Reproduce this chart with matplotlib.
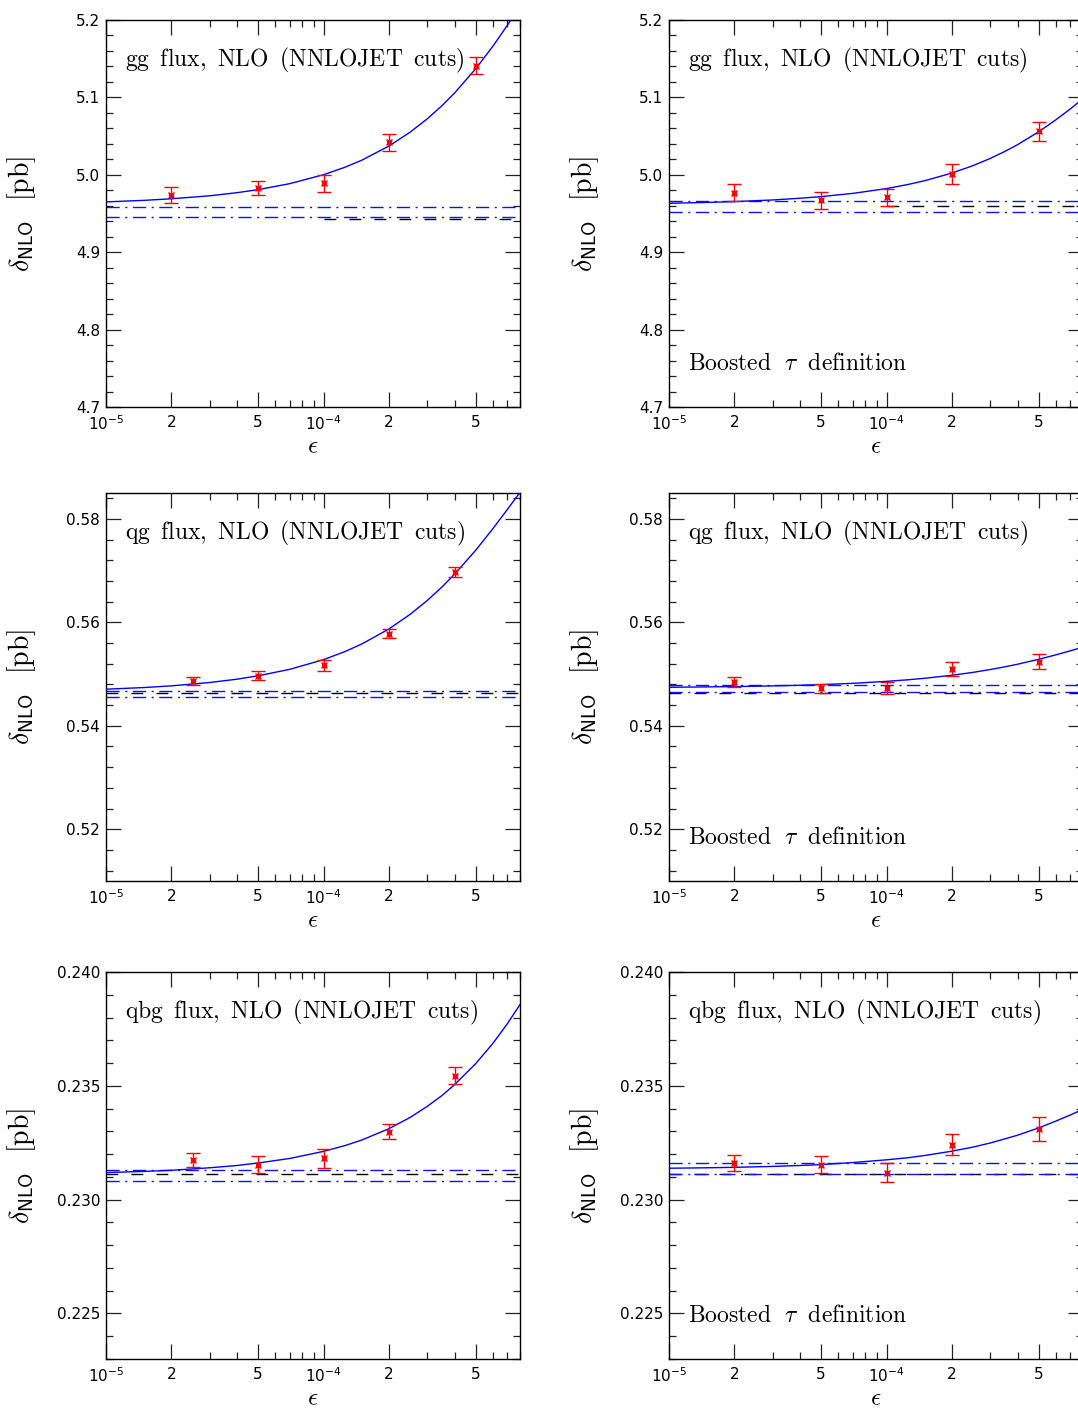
import matplotlib
matplotlib.use("Agg")
import matplotlib.pyplot as plt
from matplotlib.ticker import FixedLocator, MultipleLocator, FormatStrFormatter, NullFormatter

plt.rcParams['mathtext.fontset'] = 'cm'
plt.rcParams['font.family'] = ['cmr10', 'DejaVu Sans']
plt.rcParams['axes.unicode_minus'] = False

# ---------------- data ----------------
x_major = [1e-5, 2e-5, 5e-5, 1e-4, 2e-4, 5e-4]
x_major_labels = [r'$10^{-5}$', '2', '5', r'$10^{-4}$', '2', '5']
x_minor = [3e-5, 4e-5, 6e-5, 7e-5, 8e-5, 9e-5, 3e-4, 4e-4, 6e-4, 7e-4, 8e-4]
x_range = [1e-5, 8e-4]

eps_fit = [1e-5, 1.5e-5, 2e-5, 3e-5, 4e-5, 5e-5, 7e-5, 1e-4, 1.25e-4, 1.5e-4,
           2e-4, 2.5e-4, 3e-4, 3.5e-4, 4e-4, 5e-4, 6e-4, 7e-4, 8e-4]

# gg, standard definition
gg_std_eps = [2e-5, 5e-5, 1e-4, 2e-4, 5e-4]
gg_std_val = [4.974, 4.983, 4.989, 5.042, 5.141]
gg_std_err = [0.010, 0.0095, 0.011, 0.011, 0.011]
gg_std_fit = [4.9650, 4.9670, 4.9690, 4.9729, 4.9769, 4.9808, 4.9886, 5.0001, 5.0096,
              5.0189, 5.0372, 5.0551, 5.0724, 5.0892, 5.1056, 5.1368, 5.1660, 5.1932,
              5.2185]
gg_std_band = [4.958, 4.946]
gg_std_ref = 4.9426

# gg, boosted tau definition
gg_bst_eps = [2e-5, 5e-5, 1e-4, 2e-4, 5e-4]
gg_bst_val = [4.977, 4.967, 4.971, 5.001, 5.056]
gg_bst_err = [0.011, 0.011, 0.011, 0.0125, 0.012]
gg_bst_fit = [4.9632, 4.9643, 4.9654, 4.9675, 4.9697, 4.9718, 4.9760, 4.9822, 4.9874,
              4.9924, 5.0023, 5.0119, 5.0212, 5.0302, 5.0389, 5.0555, 5.0710, 5.0852,
              5.0983]
gg_bst_band = [4.9667, 4.9525]
gg_bst_ref = 4.960

# qg, standard definition
qg_std_eps = [2.5e-5, 5e-5, 1e-4, 2e-4, 4e-4]
qg_std_val = [0.54868, 0.54971, 0.55171, 0.55783, 0.56975]
qg_std_err = [0.00077, 0.0009, 0.0011, 0.0009, 0.0010]
qg_std_fit = [0.54707, 0.54740, 0.54772, 0.54837, 0.54901, 0.54966, 0.55092, 0.55279,
              0.55432, 0.55582, 0.55873, 0.56154, 0.56423, 0.56682, 0.56929, 0.57391,
              0.57809, 0.58183, 0.58513]
qg_std_band = [0.5468, 0.5455]
qg_std_ref = 0.5464

# qg, boosted tau definition
qg_bst_eps = [2e-5, 5e-5, 1e-4, 2e-4, 5e-4]
qg_bst_val = [0.54842, 0.54726, 0.54726, 0.55106, 0.55241]
qg_bst_err = [0.00094, 0.0009, 0.0012, 0.00135, 0.0014]
qg_bst_fit = [0.54745, 0.54752, 0.54758, 0.54771, 0.54784, 0.54796, 0.54821, 0.54859,
              0.54889, 0.54919, 0.54977, 0.55033, 0.55088, 0.55140, 0.55190, 0.55285,
              0.55371, 0.55450, 0.55520]
qg_bst_band = [0.5479, 0.5466]
qg_bst_ref = 0.5463

# qbg, standard definition
qbg_std_eps = [2.5e-5, 5e-5, 1e-4, 2e-4, 4e-4]
qbg_std_val = [0.23176, 0.23154, 0.23182, 0.23299, 0.23545]
qbg_std_err = [0.00031, 0.00036, 0.00041, 0.00034, 0.00039]
qbg_std_fit = [0.23119, 0.23124, 0.23129, 0.23140, 0.23150, 0.23161, 0.23181, 0.23212,
               0.23237, 0.23262, 0.23312, 0.23361, 0.23410, 0.23457, 0.23505, 0.23597,
               0.23686, 0.23773, 0.23857]
qbg_std_band = [0.23130, 0.23080]
qbg_std_ref = 0.23112

# qbg, boosted tau definition
qbg_bst_eps = [2e-5, 5e-5, 1e-4, 2e-4, 5e-4]
qbg_bst_val = [0.23161, 0.23153, 0.23119, 0.23242, 0.23309]
qbg_bst_err = [0.00034, 0.00037, 0.00043, 0.00048, 0.00053]
qbg_bst_fit = [0.23138, 0.23140, 0.23142, 0.23146, 0.23150, 0.23154, 0.23163, 0.23175,
               0.23184, 0.23194, 0.23213, 0.23231, 0.23249, 0.23267, 0.23283, 0.23315,
               0.23345, 0.23372, 0.23397]
qbg_bst_band = [0.23160, 0.23113]
qbg_bst_ref = 0.23112

titles = [r'gg $\,$flux, $\,$NLO $\,$(NNLOJET $\,$cuts)',
          r'qg $\,$flux, $\,$NLO $\,$(NNLOJET $\,$cuts)',
          r'qbg $\,$flux, $\,$NLO $\,$(NNLOJET $\,$cuts)']
boosted_label = r'Boosted $\;\tau\;$ definition'
ylabel = r'$\delta_{\mathsf{NLO}}$  [pb]'
xlabel = r'$\epsilon$'

row_ylims = [(4.7, 5.2), (0.51, 0.585), (0.223, 0.240)]
row_major = [0.1, 0.02, 0.005]
row_minor = [0.02, 0.004, 0.001]
row_fmt = ['%.1f', '%.2f', '%.3f']

panels = [
    [(gg_std_eps, gg_std_val, gg_std_err, gg_std_fit, gg_std_band, gg_std_ref, 1e-4, False),
     (gg_bst_eps, gg_bst_val, gg_bst_err, gg_bst_fit, gg_bst_band, gg_bst_ref, 1e-4, True)],
    [(qg_std_eps, qg_std_val, qg_std_err, qg_std_fit, qg_std_band, qg_std_ref, 1e-5, False),
     (qg_bst_eps, qg_bst_val, qg_bst_err, qg_bst_fit, qg_bst_band, qg_bst_ref, 1e-5, True)],
    [(qbg_std_eps, qbg_std_val, qbg_std_err, qbg_std_fit, qbg_std_band, qbg_std_ref, 1e-5, False),
     (qbg_bst_eps, qbg_bst_val, qbg_bst_err, qbg_bst_fit, qbg_bst_band, qbg_bst_ref, 1e-5, True)],
]

# ---------------- layout ----------------
W, H = 1078, 1408
fig = plt.figure(figsize=(W / 100, H / 100), dpi=100)
row_tb = [(20, 407), (493, 881), (972, 1359)]
col_l = [106, 669]
ax_w = 414

for r in range(3):
    top, bot = row_tb[r]
    for c in range(2):
        eps, val, err, fit, band, ref, ref_start, boosted = panels[r][c]
        ax = fig.add_axes([col_l[c] / W, (H - bot) / H, ax_w / W, (bot - top) / H])
        ax.set_xscale('log')
        ax.set_xlim(*x_range)
        ax.set_ylim(*row_ylims[r])

        # reference (black dashed) and band (blue dash-dot)
        ax.plot([ref_start, x_range[1]], [ref, ref], color='black', lw=1.0,
                dashes=(8.5, 9.5), zorder=2)
        for b in band:
            ax.plot(x_range, [b, b], color='#1010ff', lw=1.0,
                    dashes=(9.5, 4, 1.5, 4), zorder=2)
        # fit curve
        ax.plot(eps_fit, fit, color='#0000ff', lw=1.0, zorder=3)
        # data points
        ax.errorbar(eps, val, yerr=err, fmt='none', ecolor='#ff0000', elinewidth=1.0,
                    capsize=4.8, capthick=1.0, zorder=4)
        ax.plot(eps, val, ls='none', marker='x', ms=5, mew=1.0, color='#ff0000', zorder=5)
        ax.plot(eps, val, ls='none', marker='s', ms=3.5, mew=0.8, mfc='none',
                mec='#ff0000', zorder=5)

        # ticks
        ax.xaxis.set_major_locator(FixedLocator(x_major))
        ax.set_xticklabels(x_major_labels)
        ax.xaxis.set_minor_locator(FixedLocator(x_minor))
        ax.xaxis.set_minor_formatter(NullFormatter())
        ax.yaxis.set_major_locator(MultipleLocator(row_major[r]))
        ax.yaxis.set_minor_locator(MultipleLocator(row_minor[r]))
        ax.yaxis.set_major_formatter(FormatStrFormatter(row_fmt[r]))
        ax.tick_params(which='both', direction='in', top=True, right=True,
                       colors='#222222', labelcolor='black', labelfontfamily='DejaVu Sans')
        ax.tick_params(which='major', length=10.8, width=0.9, labelsize=11)
        ax.tick_params(axis='y', which='major', pad=4.3)
        ax.tick_params(axis='x', which='major', pad=5.5)
        ax.tick_params(which='minor', length=5.0, width=0.9)
        for lab in ax.get_xticklabels():
            lab.set_math_fontfamily('dejavusans')
        for sp in ax.spines.values():
            sp.set_linewidth(1.0)
            sp.set_color('black')

        # texts
        ax.text(0.046, 0.895, titles[r], transform=ax.transAxes, fontsize=17,
                ha='left', va='center', family='cmr10')
        if boosted:
            ax.text(0.046, 0.111, boosted_label, transform=ax.transAxes, fontsize=17,
                    ha='left', va='center', family='cmr10')
        ax.set_ylabel(ylabel, fontsize=20, va='center', family='cmr10')
        ax.yaxis.set_label_coords(-0.203, 0.5)
        ax.set_xlabel(xlabel, fontsize=18, va='center')
        ax.xaxis.set_label_coords(0.5, -0.103)

fig.savefig('out.png', dpi=100)
